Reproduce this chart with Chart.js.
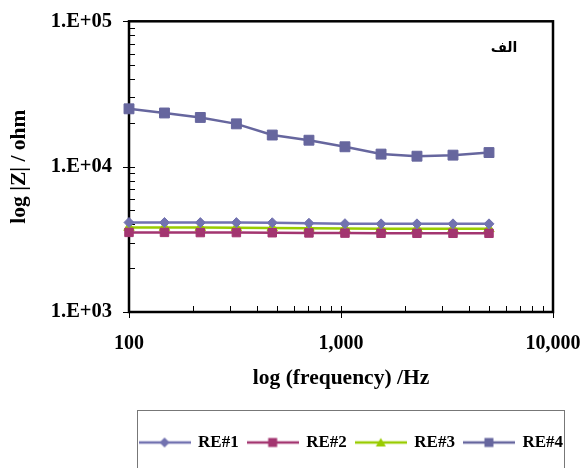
<!DOCTYPE html>
<html>
<head>
<meta charset="utf-8">
<script src="https://cdn.jsdelivr.net/npm/chart.js@4/dist/chart.umd.min.js"></script>
<style>
  body { margin: 0; background: #fff; }
  #wrap { width: 585px; height: 468px; }
</style>
</head>
<body>
<div id="wrap"><canvas id="myChart" width="585" height="468"></canvas></div>
<script>
// frequency (Hz)
const freq = [100, 147, 217, 321, 474, 706, 1044, 1545, 2282, 3375, 4990];

// |Z| (ohm) for each electrode
const re1 = [4130, 4130, 4120, 4120, 4110, 4080, 4050, 4040, 4040, 4040, 4040];
const re2 = [3530, 3530, 3520, 3520, 3510, 3500, 3490, 3480, 3480, 3480, 3480];
const re3 = [3820, 3820, 3810, 3800, 3790, 3770, 3750, 3740, 3740, 3740, 3740];
const re4 = [25000, 23400, 21800, 19700, 16500, 15200, 13700, 12200, 11800, 12000, 12500];

const seriesNames = ['RE#1', 'RE#2', 'RE#3', 'RE#4'];

// axis ticks
const xMajor = [100, 1000, 10000];
const xLabels = ['100', '1,000', '10,000'];
const yMajor = [1000, 10000, 100000];
const yLabels = ['1.E+03', '1.E+04', '1.E+05'];
const minorSteps = [1, 2, 3, 4, 5, 6, 7, 8, 9];

const panelLabel = 'الف';

Chart.defaults.font.family = "'Liberation Serif', 'Times New Roman', serif";
Chart.defaults.font.weight = 'bold';
Chart.defaults.color = '#000';

function toPoints(ys) {
    return freq.map((f, i) => ({ x: f, y: ys[i] }));
}

function logTicks(majors) {
    const list = [];
    for (let i = 0; i < majors.length - 1; i++) {
        minorSteps.forEach(m => list.push({ value: majors[i] * m }));
    }
    list.push({ value: majors[majors.length - 1] });
    return list;
}

// little line + marker pictures for the legend
function legendIcon(color, shape) {
    const c = document.createElement('canvas');
    c.width = 52;
    c.height = 14;
    const g = c.getContext('2d');
    g.strokeStyle = color;
    g.fillStyle = color;
    g.lineWidth = 2.5;
    g.beginPath();
    g.moveTo(0, 7);
    g.lineTo(52, 7);
    g.stroke();
    g.beginPath();
    if (shape === 'diamond') {
        g.moveTo(26, 2); g.lineTo(31, 7); g.lineTo(26, 12); g.lineTo(21, 7);
    } else if (shape === 'square') {
        g.rect(21.5, 2.5, 9, 9);
    } else {
        g.moveTo(26, 2.5); g.lineTo(31, 11); g.lineTo(21, 11);
    }
    g.closePath();
    g.fill();
    return c;
}

const colors = ['#7272B0', '#A33570', '#99CC00', '#66669E'];
const icons = [
    legendIcon(colors[0], 'diamond'),
    legendIcon(colors[1], 'square'),
    legendIcon(colors[2], 'triangle'),
    legendIcon(colors[3], 'square')
];

const framePlugin = {
    id: 'frame',
    beforeDatasetsDraw(chart) {
        const ctx = chart.ctx;
        const a = chart.chartArea;
        const xs = chart.scales.x;
        const ys = chart.scales.y;
        ctx.save();
        ctx.strokeStyle = '#000';
        ctx.lineWidth = 1;
        ctx.beginPath();
        xs.ticks.forEach(t => {
            const px = Math.round(xs.getPixelForValue(t.value)) + 0.5;
            const major = xMajor.includes(t.value);
            ctx.moveTo(px, a.bottom + (major ? 6 : 0));
            ctx.lineTo(px, a.bottom - 6);
        });
        ys.ticks.forEach(t => {
            const py = Math.round(ys.getPixelForValue(t.value)) + 0.5;
            const major = yMajor.includes(t.value);
            ctx.moveTo(a.left - (major ? 6 : 0), py);
            ctx.lineTo(a.left + 6, py);
        });
        ctx.stroke();
        ctx.lineWidth = 2.5;
        ctx.strokeRect(a.left, a.top, a.right - a.left, a.bottom - a.top);
        ctx.restore();
    },
    afterDraw(chart) {
        const ctx = chart.ctx;
        const a = chart.chartArea;
        ctx.save();
        ctx.fillStyle = '#000';
        ctx.font = "bold 14px 'DejaVu Sans'";
        ctx.textAlign = 'center';
        ctx.textBaseline = 'middle';
        ctx.fillText(panelLabel, a.right - 49, a.top + 27);

        // box round the legend
        const hb = chart.legend.legendHitBoxes;
        if (hb && hb.length) {
            const last = hb[hb.length - 1];
            const left = hb[0].left - 2.5;
            const right = last.left + last.width + 1;
            ctx.strokeStyle = '#777';
            ctx.lineWidth = 1;
            ctx.strokeRect(Math.round(left) + 0.5, 410.5, Math.round(right - left), 80);
        }
        ctx.restore();
    }
};

const ctx = document.getElementById('myChart').getContext('2d');
const chart = new Chart(ctx, {
    type: 'line',
    data: {
        datasets: [{
            label: seriesNames[0],
            data: toPoints(re1),
            borderColor: colors[0],
            backgroundColor: colors[0],
            borderWidth: 2.5,
            pointStyle: 'rectRot',
            pointRadius: 5,
            pointBorderWidth: 1,
            clip: false
        }, {
            label: seriesNames[1],
            data: toPoints(re2),
            borderColor: colors[1],
            backgroundColor: colors[1],
            borderWidth: 2.5,
            pointStyle: 'rect',
            pointRadius: 6,
            pointBorderWidth: 1,
            clip: false
        }, {
            label: seriesNames[2],
            data: toPoints(re3),
            borderColor: colors[2],
            backgroundColor: colors[2],
            borderWidth: 2.5,
            pointStyle: 'triangle',
            pointRadius: 6,
            pointBorderWidth: 1,
            clip: false
        }, {
            label: seriesNames[3],
            data: toPoints(re4),
            borderColor: colors[3],
            backgroundColor: colors[3],
            borderWidth: 2.5,
            pointStyle: 'rect',
            pointRadius: 7,
            pointBorderWidth: 1,
            clip: false
        }]
    },
    options: {
        responsive: false,
        animation: false,
        layout: {
            padding: { left: 4, right: 13, top: 11, bottom: 7 }
        },
        plugins: {
            tooltip: { enabled: false },
            legend: {
                position: 'bottom',
                align: 'end',
                labels: {
                    usePointStyle: true,
                    pointStyleWidth: 50,
                    padding: 9,
                    color: '#000',
                    font: { size: 17, weight: 'bold' },
                    generateLabels(chart) {
                        const items = Chart.defaults.plugins.legend.labels.generateLabels(chart);
                        items.forEach((it, i) => { it.pointStyle = icons[i]; });
                        return items;
                    }
                }
            }
        },
        scales: {
            x: {
                type: 'logarithmic',
                min: 100,
                max: 10000,
                grid: { display: false },
                border: { display: false },
                afterBuildTicks(scale) { scale.ticks = logTicks(xMajor); },
                afterFit(scale) {
                    scale.height = 113;
                    scale.paddingRight = 32;
                },
                ticks: {
                    autoSkip: false,
                    maxRotation: 0,
                    padding: 12,
                    font: { size: 20, weight: 'bold' },
                    callback(value) {
                        const i = xMajor.indexOf(value);
                        return i >= 0 ? xLabels[i] : '';
                    }
                },
                title: {
                    display: true,
                    text: 'log (frequency) /Hz',
                    font: { size: 21.5, weight: 'bold' },
                    padding: { top: 4, bottom: 34 }
                }
            },
            y: {
                type: 'logarithmic',
                min: 1000,
                max: 100000,
                grid: { display: false },
                border: { display: false },
                afterBuildTicks(scale) { scale.ticks = logTicks(yMajor); },
                afterFit(scale) { scale.width = 125; },
                ticks: {
                    autoSkip: false,
                    padding: 9,
                    font: { size: 20.5, weight: 'bold' },
                    callback(value) {
                        const i = yMajor.indexOf(value);
                        return i >= 0 ? yLabels[i] : '';
                    }
                },
                title: {
                    display: true,
                    text: 'log |Z| / ohm',
                    font: { size: 21.5, weight: 'bold' },
                    padding: { top: 3, bottom: 4 }
                }
            }
        }
    },
    plugins: [framePlugin]
});
</script>
</body>
</html>
